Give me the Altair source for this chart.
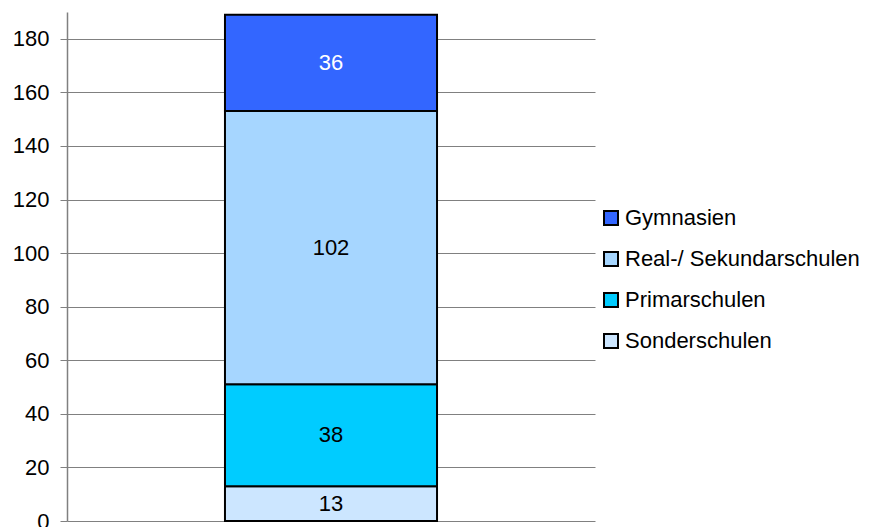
import altair as alt
import pandas as pd

categories = ["Sonderschulen", "Primarschulen", "Real-/ Sekundarschulen", "Gymnasien"]
values = [13, 38, 102, 36]
stack_order = [1, 2, 3, 4]
legend_order = ["Gymnasien", "Real-/ Sekundarschulen", "Primarschulen", "Sonderschulen"]
colors = {"Gymnasien": "#3366FF", "Real-/ Sekundarschulen": "#A6D6FF",
          "Primarschulen": "#00CCFF", "Sonderschulen": "#CCE6FF"}
text_colors = {"Gymnasien": "white", "Real-/ Sekundarschulen": "black",
               "Primarschulen": "black", "Sonderschulen": "black"}

df = pd.DataFrame({"cat": categories, "value": values, "ord": stack_order,
                   "grp": ["A"] * 4,
                   "tcol": [text_colors[c] for c in categories]})

base = alt.Chart(df).transform_stack(
    stack="value", groupby=["grp"], as_=["y0", "y1"],
    sort=[alt.SortField("ord", order="ascending")]
).transform_calculate(mid="(datum.y0 + datum.y1) / 2")

xenc = alt.X("grp:N", axis=None,
             scale=alt.Scale(paddingInner=0, paddingOuter=0.745))
yscale = alt.Scale(domain=[0, 190], nice=False)

bars = base.mark_bar(stroke="black", strokeWidth=2).encode(
    x=xenc,
    y=alt.Y("y0:Q", scale=yscale,
            axis=alt.Axis(values=list(range(0, 181, 20)), title=None,
                          grid=True, gridColor="#808080", gridWidth=1, gridOpacity=1,
                          domainColor="#808080", domainWidth=1.5,
                          tickColor="#808080", tickSize=7,
                          labelFont="Liberation Sans", labelFontSize=22,
                          labelColor="black", labelPadding=11)),
    y2="y1:Q",
    color=alt.Color("cat:N",
                    scale=alt.Scale(domain=legend_order,
                                    range=[colors[c] for c in legend_order]),
                    legend=alt.Legend(title=None, orient="none", legendX=533, legendY=195,
                                      symbolType="square", symbolSize=196,
                                      symbolStrokeColor="black", symbolStrokeWidth=2,
                                      labelFont="Liberation Sans", labelFontSize=22,
                                      labelColor="black", labelOffset=3,
                                      labelLimit=400, rowPadding=19)),
)

labels = base.mark_text(font="Liberation Sans", fontSize=22).encode(
    x=xenc,
    y=alt.Y("mid:Q", scale=yscale),
    text="value:Q",
    color=alt.Color("tcol:N", scale=None),
)

chart = (bars + labels).properties(
    width=528, height=509,
    autosize=alt.AutoSizeParams(type="none"),
    padding={"left": 59, "top": 4, "right": 273, "bottom": 10},
).configure_view(stroke=None)

chart.save("out.html", embed_options={"renderer": "svg", "actions": False})
